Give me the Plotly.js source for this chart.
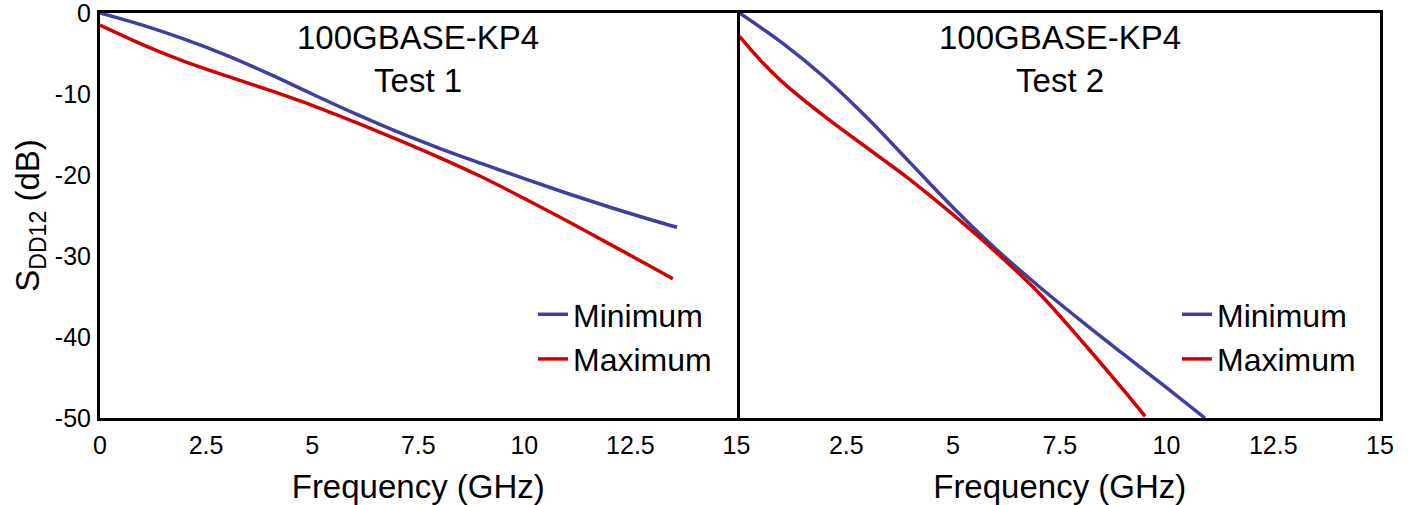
<!DOCTYPE html>
<html>
<head>
<meta charset="utf-8">
<script src="https://cdn.plot.ly/plotly-3.0.1.min.js"></script>
<style>html,body{margin:0;padding:0;background:#fff;}#chart{width:1410px;height:505px;}</style>
</head>
<body>
<div id="chart"></div>
<script>
// Test 1 (left panel)
const test1MinFreq = [0, 1, 2, 3, 4, 5, 6, 7, 8, 9, 10, 11, 12, 13, 13.6];
const test1Min     = [0, -1.5, -3.25, -5.25, -7.55, -10.0, -12.4, -14.65, -16.7, -18.6, -20.45, -22.25, -23.95, -25.55, -26.45];
const test1MaxFreq = [0, 1, 2, 3, 4, 5, 6, 7, 8, 9, 10, 11, 12, 13, 13.5];
const test1Max     = [-1.5, -3.9, -6.0, -7.8, -9.55, -11.4, -13.45, -15.6, -17.85, -20.25, -22.9, -25.65, -28.5, -31.35, -32.8];
// Test 2 (right panel)
const test2MinFreq = [0, 1, 2, 3, 4, 5, 6, 7, 8, 9, 10, 10.9];
const test2Min     = [0, -3.7, -8.0, -13.0, -18.5, -24.0, -29.1, -33.7, -38.0, -42.15, -46.25, -50];
const test2MaxFreq = [0, 0.5, 1, 2, 3, 4, 5, 6, 7, 8, 9, 9.5];
const test2Max     = [-2.9, -5.9, -8.5, -12.8, -16.7, -20.6, -24.9, -29.5, -34.5, -40.4, -46.6, -49.8];

const xTicksLeft = [0, 2.5, 5, 7.5, 10, 12.5, 15];
const xTicksRight = [2.5, 5, 7.5, 10, 12.5, 15];
const yTicks = [0, -10, -20, -30, -40, -50];
const panelTitles = ['100GBASE-KP4<br>Test 1', '100GBASE-KP4<br>Test 2'];
const seriesNames = ['Minimum', 'Maximum'];

const BLUE = '#3f3f9f';
const RED = '#d20000';
const FONT = 'Liberation Sans, Arial, Helvetica, sans-serif';

const traces = [
  {x: test1MinFreq, y: test1Min, name: seriesNames[0], xaxis: 'x', yaxis: 'y', legend: 'legend',
   mode: 'lines', line: {color: BLUE, width: 3.5, shape: 'spline'}},
  {x: test1MaxFreq, y: test1Max, name: seriesNames[1], xaxis: 'x', yaxis: 'y', legend: 'legend',
   mode: 'lines', line: {color: RED, width: 3.5, shape: 'spline'}},
  {x: test2MinFreq, y: test2Min, name: seriesNames[0], xaxis: 'x2', yaxis: 'y2', legend: 'legend2',
   mode: 'lines', line: {color: BLUE, width: 3.5, shape: 'spline'}},
  {x: test2MaxFreq, y: test2Max, name: seriesNames[1], xaxis: 'x2', yaxis: 'y2', legend: 'legend2',
   mode: 'lines', line: {color: RED, width: 3.5, shape: 'spline'}}
];

const axisCommon = {
  showline: true, linecolor: '#000', linewidth: 3, mirror: true,
  showgrid: false, zeroline: false, ticks: '', ticklabeloverflow: 'allow',
  tickfont: {family: FONT, size: 25, color: '#000'}
};
const legendCommon = {
  font: {family: FONT, size: 32, color: '#000'},
  bgcolor: 'rgba(0,0,0,0)', borderwidth: 0,
  xanchor: 'left', yanchor: 'top', tracegroupgap: 0
};
const xTitle = {text: 'Frequency (GHz)', font: {family: FONT, size: 33, color: '#000'}, standoff: 19};

const layout = {
  width: 1410, height: 505,
  margin: {l: 100, r: 30, t: 13, b: 87},
  paper_bgcolor: '#fff', plot_bgcolor: '#fff',
  font: {family: FONT, color: '#000'},
  xaxis: Object.assign({}, axisCommon, {
    domain: [0, 636.5 / 1280], range: [0, 15], tickvals: xTicksLeft,
    ticklabelstandoff: 3, title: xTitle, automargin: false
  }),
  xaxis2: Object.assign({}, axisCommon, {
    domain: [639.5 / 1280, 1], range: [0, 15], tickvals: xTicksRight,
    ticklabelstandoff: 3, title: xTitle, automargin: false
  }),
  yaxis: Object.assign({}, axisCommon, {
    range: [-50, 0], tickvals: yTicks, ticktext: yTicks.map(String), anchor: 'x',
    ticklabelstandoff: 1,
    title: {text: 'S<sub>DD12</sub> (dB)', font: {family: FONT, size: 33, color: '#000'}, standoff: 6},
    automargin: false
  }),
  yaxis2: Object.assign({}, axisCommon, {
    range: [-50, 0], tickvals: yTicks, anchor: 'x2', matches: 'y', showticklabels: false
  }),
  showlegend: true,
  legend: Object.assign({}, legendCommon, {x: (533 - 100) / 1280, y: 1 - (287 - 13) / 405}),
  legend2: Object.assign({}, legendCommon, {x: (1217 - 40 - 100) / 1280, y: 1 - (287 - 13) / 405}),
  annotations: [
    {text: panelTitles[0], xref: 'x domain', yref: 'paper', x: 0.5, y: 1 - (59 - 13) / 405,
     xanchor: 'center', yanchor: 'middle', showarrow: false, align: 'center',
     font: {family: FONT, size: 33, color: '#000'}},
    {text: panelTitles[1], xref: 'x2 domain', yref: 'paper', x: 0.5, y: 1 - (59 - 13) / 405,
     xanchor: 'center', yanchor: 'middle', showarrow: false, align: 'center',
     font: {family: FONT, size: 33, color: '#000'}}
  ]
};

Plotly.newPlot('chart', traces, layout, {staticPlot: true, displayModeBar: false});
</script>
</body>
</html>
